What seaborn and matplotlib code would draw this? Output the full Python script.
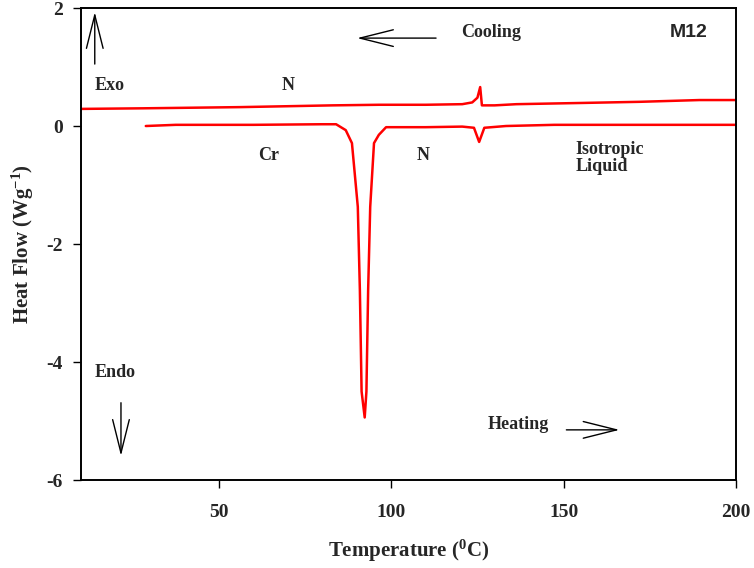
import matplotlib
matplotlib.use("Agg")
import matplotlib.pyplot as plt
import seaborn as sns
from matplotlib.patches import ArrowStyle

# cooling scan (upper trace)
cool_t = [10, 28, 56, 83, 96.5, 110, 120.6, 123.5, 125.0, 125.8, 126.3, 130, 136.3, 154.6, 172, 189.4, 200]
cool_hf = [0.29, 0.30, 0.32, 0.35, 0.36, 0.36, 0.37, 0.40, 0.48, 0.66, 0.35, 0.35, 0.37, 0.39, 0.41, 0.44, 0.44]

# heating scan (lower trace)
heat_t = [28.8, 37.5, 60, 80, 84.0, 86.8, 88.6, 90.3, 90.9, 91.4, 92.3, 92.8, 93.3, 93.9, 95.0, 96.4,
          98.5, 110, 120.6, 124.0, 125.5, 127.0, 133.3, 147.3, 200]
heat_hf = [0.0, 0.02, 0.02, 0.03, 0.03, -0.07, -0.29, -1.37, -2.78, -4.5, -4.94, -4.5, -2.78, -1.37, -0.29, -0.15,
           -0.02, -0.02, -0.01, -0.03, -0.27, -0.03, 0.0, 0.02, 0.02]

x_ticks = [50, 100, 150, 200]
y_ticks = [-6, -4, -2, 0, 2]

sns.set_style("ticks")
plt.rcParams["font.family"] = ["Liberation Serif", "DejaVu Serif"]
plt.rcParams["font.weight"] = "bold"
plt.rcParams["mathtext.default"] = "regular"

fig = plt.figure(figsize=(7.54, 5.68), dpi=100)
ax = fig.add_axes([0.1074, 0.1549, 0.8687, 0.831])

sns.lineplot(x=cool_t, y=cool_hf, color="#ff0000", lw=1.8, ax=ax)
sns.lineplot(x=heat_t, y=heat_hf, color="#ff0000", lw=1.8, ax=ax)

ax.set_xlim(10, 200)
ax.set_ylim(-6, 2)
ax.set_xticks(x_ticks)
ax.set_yticks(y_ticks)
ax.set_xticklabels([str(v) for v in x_ticks], fontsize=14, fontweight="bold")
ax.set_yticklabels([str(v) for v in y_ticks], fontsize=14, fontweight="bold")
ax.tick_params(axis="both", direction="out", length=6, width=1.0, color="black")
ax.tick_params(axis="x", pad=11)
ax.tick_params(axis="y", pad=7)
for s in ax.spines.values():
    s.set_visible(True)
    s.set_linewidth(1.4)
    s.set_color("black")

ax.set_xlabel("Temperature ($^{0}$C)", fontsize=15, fontweight="bold")
ax.set_ylabel("Heat Flow (Wg$^{-1}$)", fontsize=15, fontweight="bold")
ax.xaxis.set_label_coords(0.5, -0.122)
ax.yaxis.set_label_coords(-0.068, 0.5)

# annotations
txt = dict(fontsize=13, fontweight="bold", va="center", ha="left")
ax.text(14.1, 0.68, "Exo", **txt)
ax.text(68.3, 0.68, "N", **txt)
ax.text(120.2, 1.59, "Cooling", **txt)
ax.text(180.7, 1.59, "M12", fontsize=14, fontweight="bold", va="center", ha="left",
        family=["Liberation Sans", "DejaVu Sans"])
ax.text(61.4, -0.50, "Cr", **txt)
ax.text(107.3, -0.50, "N", **txt)
ax.text(153.4, -0.54, "Isotropic\nLiquid", linespacing=1.05, **txt)
ax.text(14.0, -4.17, "Endo", **txt)
ax.text(127.9, -5.06, "Heating", **txt)

arr = dict(arrowstyle=ArrowStyle("->", head_length=2.4, head_width=0.6),
           color="black", lw=1.0, mutation_scale=10, shrinkA=0, shrinkB=0)
ax.annotate("", xy=(14.0, 1.93), xytext=(14.0, 1.05), arrowprops=arr)
ax.annotate("", xy=(90.1, 1.49), xytext=(113.0, 1.49), arrowprops=arr)
ax.annotate("", xy=(21.6, -5.59), xytext=(21.6, -4.69), arrowprops=arr)
ax.annotate("", xy=(166.2, -5.15), xytext=(150.8, -5.15), arrowprops=arr)

fig.savefig("out.png", dpi=100)
plt.close(fig)
